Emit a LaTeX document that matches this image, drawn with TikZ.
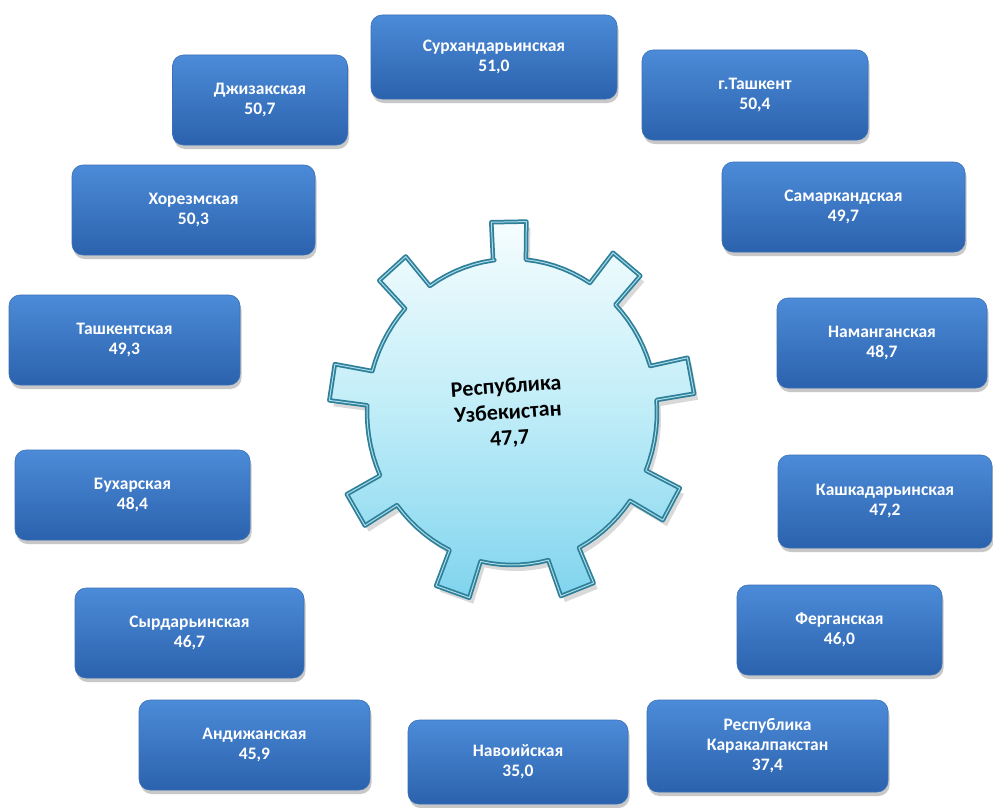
\documentclass[tikz,border=0pt]{standalone}
\usepackage{fontspec}
\setmainfont{Carlito}
\usetikzlibrary{shadows}
\definecolor{boxtop}{HTML}{4C8BD8}
\definecolor{boxbot}{HTML}{2B62AD}
\definecolor{boxedge}{HTML}{3A70B8}
\definecolor{gearedge}{HTML}{2F7F99}
\definecolor{gearhi}{HTML}{A9DEEB}
\definecolor{geartop}{HTML}{F6FDFE}
\definecolor{gearmid}{HTML}{C0EDF8}
\definecolor{gearbot}{HTML}{80D4EE}
\newcommand\gearoutline{({145*cos(-97)},{153*sin(-97)})
  \foreach \t in {-91,-51,-11,29,69,109,149,189,229} {
    -- ({145*cos(\t-6.5)},{153*sin(\t-6.5)})
    -- ({183*cos(\t-5.5)},{191*sin(\t-5.5)})
    -- ({183*cos(\t+5.5)},{191*sin(\t+5.5)})
    -- ({145*cos(\t+6.5)},{153*sin(\t+6.5)})
    \foreach \s in {1,...,7} { -- ({145*cos(\t+6.5+3.857*\s)},{153*sin(\t+6.5+3.857*\s)}) }
  } -- cycle}
\tikzset{
  region/.style={rounded corners=11pt, top color=boxtop, bottom color=boxbot,
    draw=boxedge, line width=0.6pt, text=white, align=center, inner sep=0pt,
    font=\fontsize{17.5}{20}\selectfont\bfseries,
    drop shadow={shadow xshift=1.5pt, shadow yshift=-4pt, opacity=0.3, fill=black!70}},
  centertext/.style={align=center, text=black, font=\fontsize{22}{26}\selectfont\bfseries}
}
\begin{document}
\begin{tikzpicture}[x=1pt,y=-1pt]
\useasboundingbox (0,0) rectangle (993,808);
\fill[white] (0,0) rectangle (993,808);

% gear
\begin{scope}[shift={(512,412)}]
  \path[fill=black, opacity=0.15, shift={(4,6)}] \gearoutline;
  \path[top color=geartop, bottom color=gearbot, middle color=gearmid] \gearoutline;
  \draw[gearedge, line width=4.5pt, line join=round] \gearoutline;
  \draw[gearhi, line width=1pt, line join=round] \gearoutline;
\end{scope}
\node[centertext, rotate=4] (center) at (508,413) {Республика\\Узбекистан\\47,7};

% regions
\node[region, minimum width=246pt, minimum height=84pt] (r1) at (494,57) {Сурхандарьинская\\51,0};
\node[region, minimum width=226pt, minimum height=90pt] (r2) at (755,95) {г.Ташкент\\50,4};
\node[region, minimum width=175pt, minimum height=90pt] (r3) at (260,100) {Джизакская\\50,7};
\node[region, minimum width=243pt, minimum height=90pt] (r4) at (193.5,210) {Хорезмская\\50,3};
\node[region, minimum width=243pt, minimum height=90pt] (r5) at (843.5,207) {Самаркандская\\49,7};
\node[region, minimum width=231pt, minimum height=90pt] (r6) at (124.5,340) {Ташкентская\\49,3};
\node[region, minimum width=210pt, minimum height=90pt] (r7) at (882,343) {Наманганская\\48,7};
\node[region, minimum width=235pt, minimum height=90pt] (r8) at (132.5,495) {Бухарская\\48,4};
\node[region, minimum width=214pt, minimum height=93pt] (r9) at (885,501.5) {Кашкадарьинская\\47,2};
\node[region, minimum width=229pt, minimum height=90pt] (r10) at (189.5,633) {Сырдарьинская\\46,7};
\node[region, minimum width=205pt, minimum height=90pt] (r11) at (839.5,630) {Ферганская\\46,0};
\node[region, minimum width=231pt, minimum height=90pt] (r12) at (254.5,745) {Андижанская\\45,9};
\node[region, minimum width=220pt, minimum height=84pt] (r13) at (518,762) {Навоийская\\35,0};
\node[region, minimum width=241pt, minimum height=92pt] (r14) at (767.5,746) {Республика\\Каракалпакстан\\37,4};
\end{tikzpicture}
\end{document}
